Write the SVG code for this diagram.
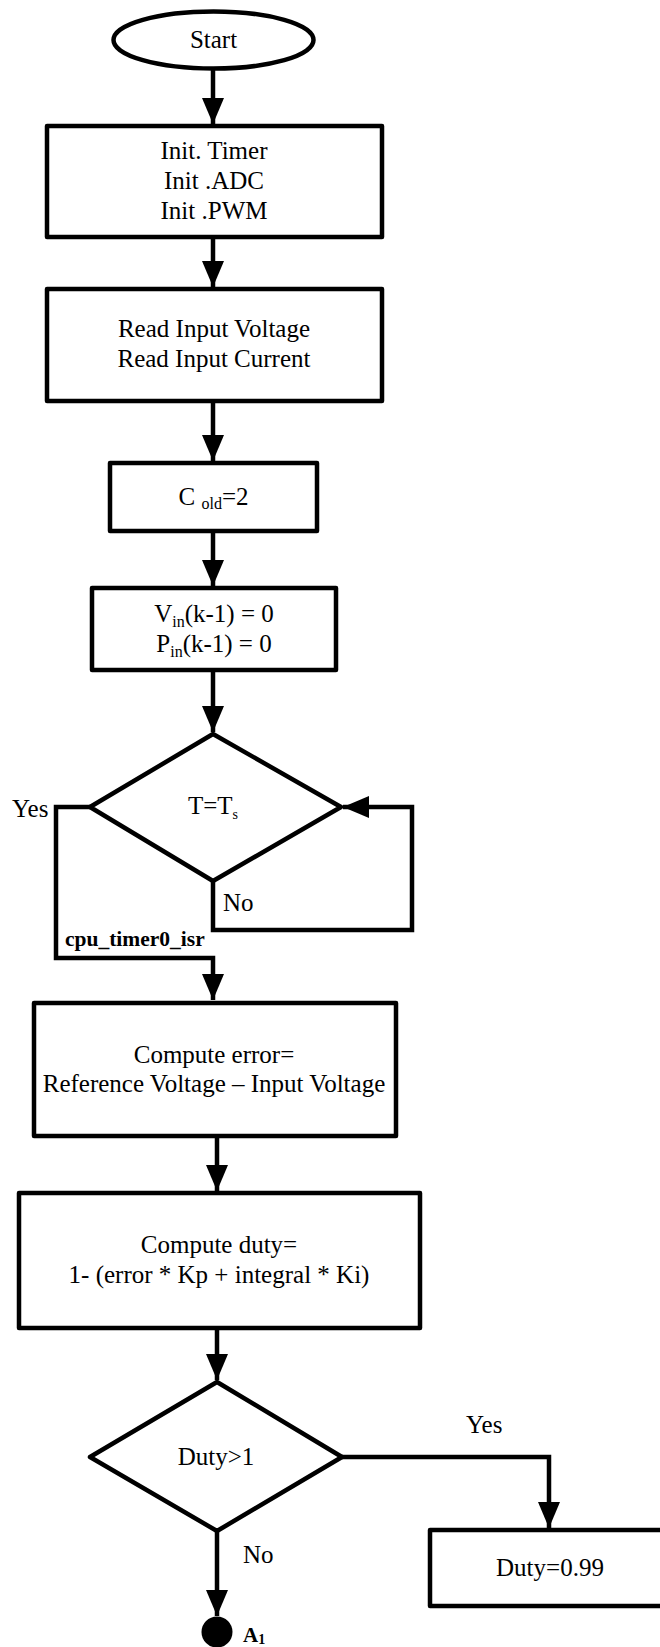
<svg xmlns="http://www.w3.org/2000/svg" width="660" height="1647" viewBox="0 0 660 1647">
<style>
.s{fill:#fff;stroke:#000;stroke-width:4.5;stroke-linejoin:round}
.c{fill:none;stroke:#000;stroke-width:4.5;stroke-linejoin:miter}
text{font-family:"Liberation Serif","Times New Roman",serif;font-size:25px;fill:#000}
.m{text-anchor:middle}
.b{font-weight:bold}
</style>
<defs>
<marker id="ah" markerUnits="userSpaceOnUse" markerWidth="26" markerHeight="22" viewBox="0 0 26 22" refX="26" refY="11" orient="auto">
<path d="M0,0 L26,11 L0,22 Z" fill="#000"/>
</marker>
</defs>
<g id="connectors">
<path class="c" d="M213,70 V124" marker-end="url(#ah)"/>
<path class="c" d="M213,237 V287" marker-end="url(#ah)"/>
<path class="c" d="M213,401 V461" marker-end="url(#ah)"/>
<path class="c" d="M213,531 V586" marker-end="url(#ah)"/>
<path class="c" d="M213,670 V732" marker-end="url(#ah)"/>
<path class="c" d="M90,807 H56 V958 H213 V1000" marker-end="url(#ah)"/>
<path class="c" d="M213,881 V930 H412 V807 H343" marker-end="url(#ah)"/>
<path class="c" d="M217,1136 V1191" marker-end="url(#ah)"/>
<path class="c" d="M217,1328 V1380" marker-end="url(#ah)"/>
<path class="c" d="M342,1457 H549 V1528" marker-end="url(#ah)"/>
<path class="c" d="M217,1531 V1616" marker-end="url(#ah)"/>
<text x="12" y="817">Yes</text>
<text x="223" y="911">No</text>
<text class="b" x="65" y="946" style="font-size:21.5px">cpu_timer0_isr</text>
<text x="466" y="1433">Yes</text>
<text x="243" y="1563">No</text>
</g>
<g id="start">
<ellipse class="s" cx="213.5" cy="40" rx="100" ry="28.5"/>
<text class="m" x="213.5" y="48">Start</text>
</g>
<g id="init">
<rect class="s" x="47" y="126" width="335" height="111"/>
<text class="m" x="214" y="159">Init. Timer</text>
<text class="m" x="214" y="189">Init .ADC</text>
<text class="m" x="214" y="219">Init .PWM</text>
</g>
<g id="read">
<rect class="s" x="47" y="289" width="335" height="112"/>
<text class="m" x="214" y="337">Read Input Voltage</text>
<text class="m" x="214" y="367">Read Input Current</text>
</g>
<g id="cold">
<rect class="s" x="110" y="463" width="207" height="68"/>
<text class="m" x="213.5" y="505">C <tspan font-size="16" dy="4">old</tspan><tspan dy="-4">=2</tspan></text>
</g>
<g id="initprev">
<rect class="s" x="92" y="588" width="244" height="82"/>
<text class="m" x="214" y="622">V<tspan font-size="16" dy="5">in</tspan><tspan dy="-5">(k-1) = 0</tspan></text>
<text class="m" x="214" y="652">P<tspan font-size="16" dy="5">in</tspan><tspan dy="-5">(k-1) = 0</tspan></text>
</g>
<g id="timer">
<polygon class="s" points="213,734 341,807 213,881 90,807"/>
<text class="m" x="213" y="814">T=T<tspan font-size="14" dy="5">s</tspan></text>
</g>
<g id="error">
<rect class="s" x="34" y="1003" width="362" height="133"/>
<text class="m" x="214" y="1063">Compute error=</text>
<text class="m" x="214" y="1092">Reference Voltage – Input Voltage</text>
</g>
<g id="duty">
<rect class="s" x="19" y="1193" width="401" height="135"/>
<text class="m" x="219" y="1253">Compute duty=</text>
<text class="m" x="219" y="1283">1- (error * Kp + integral * Ki)</text>
</g>
<g id="check">
<polygon class="s" points="217,1382 342,1457 217,1531 90,1457"/>
<text class="m" x="216" y="1465">Duty&gt;1</text>
</g>
<g id="limit">
<rect class="s" x="430" y="1530" width="245" height="76"/>
<text class="m" x="550" y="1576">Duty=0.99</text>
</g>
<g id="a1">
<circle cx="217" cy="1632" r="15.5" fill="#000"/>
<text class="b" x="243" y="1642" style="font-size:21px">A<tspan font-size="14" dy="2">1</tspan></text>
</g>
</svg>
